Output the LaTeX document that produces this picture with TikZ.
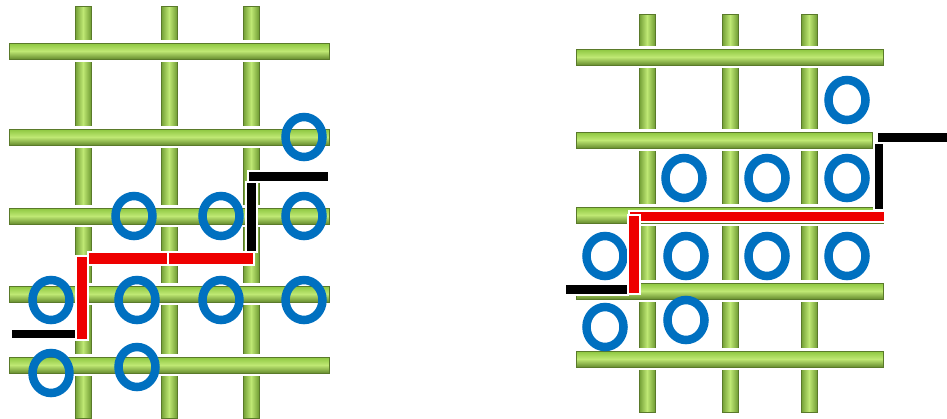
\documentclass[tikz,border=0pt]{standalone}
\begin{document}
\definecolor{barD}{HTML}{5A7A2A}
\definecolor{barM}{HTML}{8CC63F}
\definecolor{barL}{HTML}{BFE874}
\definecolor{ringB}{HTML}{0070C0}
\definecolor{redS}{HTML}{EE0000}
\tikzset{
  vbar/.style={draw=barD, line width=1pt, left color=barD!55!barM, right color=barD!55!barM, middle color=barL},
  hbar/.style={draw=barD, line width=1pt, top color=barM, bottom color=barD!75!barM, middle color=barL},
  halo/.style={fill=white},
  ring/.style={draw=ringB, line width=8.5pt},
  redseg/.style={fill=redS},
  blkseg/.style={fill=black},
}
\newcommand\VBar[3]{\draw[vbar] ({#1-8},#2) rectangle ({#1+8},#3);}
\newcommand\HBar[3]{\fill[halo] ({#1-1},{#3-11}) rectangle ({#2+1},{#3+11});
  \draw[hbar] (#1,{#3-8}) rectangle (#2,{#3+8});}
\newcommand\Ring[2]{\draw[ring] (#1,#2) ellipse [x radius=18.5, y radius=20];}
\newcommand\Seg[5]{\fill[halo] ({#2-2},{#3-2}) rectangle ({#4+2},{#5+2});
  \fill[#1] (#2,#3) rectangle (#4,#5);}
\begin{tikzpicture}[x=1pt,y=-1pt]
\useasboundingbox (0,0) rectangle (947,418);
% ---------------- left grid ----------------
\VBar{83}{6}{418}
\VBar{169}{6}{418}
\VBar{251}{6}{418}
\HBar{9}{329}{51}
\HBar{9}{329}{137}
\HBar{9}{329}{216}
\HBar{9}{329}{294}
\HBar{9}{329}{365}
\Ring{304}{137}
\Ring{134}{216}
\Ring{221}{216}
\Ring{304}{216}
\Ring{51}{300}
\Ring{137}{300}
\Ring{221}{300}
\Ring{304}{300}
\Ring{51}{373}
\Ring{137}{367}
% path
\Seg{blkseg}{12}{330}{75}{338}
\Seg{redseg}{77}{257}{87}{339}
\Seg{redseg}{89}{253}{167}{264}
\Seg{redseg}{169}{253}{253}{264}
\Seg{blkseg}{247}{183}{256}{251}
\Seg{blkseg}{249}{172}{328}{181}
% ---------------- right grid ----------------
\VBar{647}{14}{412}
\VBar{730}{14}{412}
\VBar{809}{14}{412}
\HBar{576}{883}{57}
\HBar{576}{872}{140}
\HBar{576}{883}{215}
\HBar{576}{883}{291}
\HBar{576}{883}{359}
\Ring{847}{100}
\Ring{684}{178}
\Ring{767}{178}
\Ring{847}{178}
\Ring{605}{256}
\Ring{686}{256}
\Ring{767}{256}
\Ring{847}{256}
\Ring{605}{327}
\Ring{686}{320}
% path
\Seg{blkseg}{566}{285}{627}{294}
\Seg{redseg}{630}{212}{884}{221}
\Seg{redseg}{629}{216}{639}{293}
\Seg{blkseg}{875}{144}{883}{209}
\Seg{blkseg}{878}{133}{947}{142}
\end{tikzpicture}
\end{document}
